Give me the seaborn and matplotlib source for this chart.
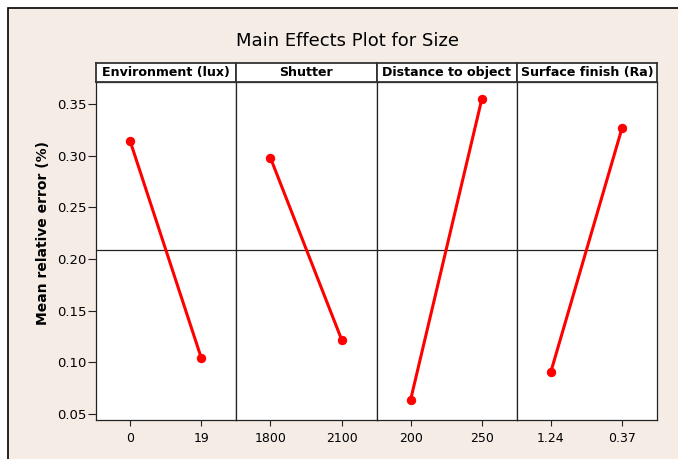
import matplotlib
matplotlib.use("Agg")
import matplotlib.pyplot as plt
import seaborn as sns
import pandas as pd
from matplotlib.patches import Rectangle

factors = ["Environment (lux)", "Shutter", "Distance to object", "Surface finish (Ra)"]
level_labels = [["0", "19"], ["1800", "2100"], ["200", "250"], ["1.24", "0.37"]]
env_means = [0.314, 0.104]
shutter_means = [0.298, 0.122]
distance_means = [0.064, 0.355]
surface_means = [0.091, 0.327]
all_means = [env_means, shutter_means, distance_means, surface_means]
grand_mean = 0.209
y_ticks = [0.05, 0.10, 0.15, 0.20, 0.25, 0.30, 0.35]

sns.set_style("white")
plt.rcParams['font.family'] = ['DejaVu Sans']
plt.rcParams['text.color'] = 'black'
plt.rcParams['xtick.color'] = '#222222'
plt.rcParams['ytick.color'] = '#222222'
plt.rcParams['xtick.labelcolor'] = 'black'
plt.rcParams['ytick.labelcolor'] = 'black'
plt.rcParams['axes.labelcolor'] = 'black'

W, H = 678, 459
fig = plt.figure(figsize=(W / 100, H / 100), dpi=100)
bg = "#F5ECE6"
fig.patch.set_facecolor("white")
fig.patches.append(Rectangle((8 / W, -0.1), 1.2, 1 - 8 / H + 0.1, transform=fig.transFigure,
                             facecolor=bg, edgecolor="black", linewidth=1.2, zorder=-5))

left_px, right_px = 96, 657
top_px, bot_px = 82, 420
strip_top = 63
pw = (right_px - left_px) / 4

for i, (fac, labs, means) in enumerate(zip(factors, level_labels, all_means)):
    x0 = (left_px + i * pw) / W
    ax = fig.add_axes([x0, 1 - bot_px / H, pw / W, (bot_px - top_px) / H])
    ax.set_facecolor("white")
    df = pd.DataFrame({"pos": [1, 2], "mean": means})
    sns.lineplot(data=df, x="pos", y="mean", ax=ax, color="#FF0000", linewidth=2.2,
                 marker="o", markersize=6, markeredgecolor="#FF0000")
    ax.axhline(grand_mean, color="#222222", linewidth=0.9, zorder=1)
    ax.set_xlim(0.52, 2.49)
    ax.set_ylim(0.0442, 0.3713)
    ax.set_xticks([1, 2])
    ax.set_xticklabels(labs)
    ax.set_xlabel("")
    ax.set_ylabel("")
    for s in ax.spines.values():
        s.set_color("#222222")
        s.set_linewidth(0.9)
    ax.tick_params(axis="x", which="both", bottom=True, length=4, width=0.8,
                   labelsize=9, pad=5, direction="out")
    if i == 0:
        ax.set_yticks(y_ticks)
        ax.set_yticklabels([f"{v:.2f}" for v in y_ticks])
        ax.tick_params(axis="y", left=True, length=5.5, width=0.8,
                       labelsize=9.5, pad=1.5, direction="out")
        ax.set_ylabel("Mean relative error (%)", fontsize=10, fontweight="bold", labelpad=5)
        ax.yaxis.set_label_coords(-0.33, (bot_px - 233) / (bot_px - top_px))
    else:
        ax.set_yticks([])
    # strip
    sax = fig.add_axes([x0, 1 - top_px / H, pw / W, (top_px - strip_top) / H])
    sax.set_xticks([])
    sax.set_yticks([])
    sax.set_facecolor("white")
    for s in sax.spines.values():
        s.set_color("#333333")
        s.set_linewidth(1.3)
    sax.text(0.5, 0.5, fac, ha="center", va="center", fontsize=9.1, fontweight="bold",
             transform=sax.transAxes)

fig.text(348 / W, 1 - 41 / H, "Main Effects Plot for Size", ha="center", va="center",
         fontsize=13)

fig.savefig("out.png", dpi=100, facecolor=fig.get_facecolor())
